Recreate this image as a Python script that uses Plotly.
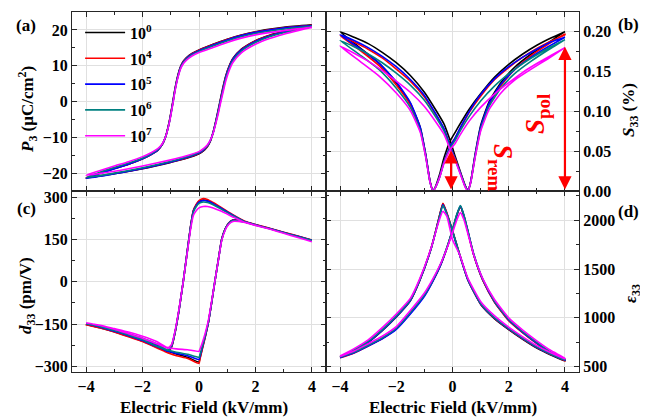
import plotly.graph_objects as go

FONT = "Liberation Serif"
SERIES = ["10<sup>0</sup>", "10<sup>4</sup>", "10<sup>5</sup>", "10<sup>6</sup>", "10<sup>7</sup>"]
COLORS = ["#000000", "#ff0000", "#0000ff", "#008080", "#ff00ff"]

# ---------------- (a) P-E loops ----------------
E_A_UP = [-4, -3, -2, -1, -0.5, 0, 0.2, 0.3, 0.4, 0.5, 0.6, 0.7, 0.75, 0.85, 0.95, 1.07, 1.2, 1.5, 2, 2.5, 3, 3.5, 4]
P_UP_0 = [-21.4, -20.2, -18.8, -17.0, -16.0, -14.6, -13.5, -12.6, -11.1, -8.6, -5.3, -1.6, 0.3, 4.0, 7.2, 9.9, 12.0, 14.6, 17.0, 18.5, 19.6, 20.5, 21.4]
P_UP_4 = [-21.3, -20.1, -18.7, -16.9, -15.9, -14.5, -13.4, -12.5, -11.1, -8.7, -5.5, -1.9, 0.0, 3.7, 7.0, 9.8, 11.9, 14.5, 16.9, 18.4, 19.5, 20.4, 21.3]
P_UP_5 = [-21.5, -20.2, -18.7, -16.9, -15.8, -14.4, -13.3, -12.4, -11.0, -8.7, -5.5, -2.0, -0.1, 3.5, 6.9, 9.7, 11.8, 14.4, 16.8, 18.3, 19.4, 20.3, 21.2]
P_UP_6 = [-21.2, -20.0, -18.5, -16.7, -15.6, -14.2, -13.1, -12.3, -10.9, -8.8, -5.7, -2.3, -0.4, 3.1, 6.4, 9.3, 11.4, 14.1, 16.5, 18.1, 19.2, 20.1, 21.0]
P_UP_7 = [-20.6, -19.5, -18.0, -16.3, -15.3, -14.0, -12.9, -12.1, -10.8, -8.9, -6.0, -2.8, -0.9, 2.5, 5.8, 8.7, 10.9, 13.6, 16.0, 17.6, 18.8, 19.8, 20.7]

E_A_DN = [4, 3, 2, 1.5, 1, 0.5, 0, -0.25, -0.45, -0.55, -0.65, -0.75, -0.85, -0.92, -1.05, -1.19, -1.3, -1.45, -1.7, -2, -2.5, -3, -3.5, -4]
P_DN_0 = [21.4, 20.7, 19.5, 18.6, 17.4, 16.0, 14.4, 13.4, 12.2, 11.3, 9.8, 7.3, 3.6, 0.3, -5.5, -10.0, -12.0, -13.5, -14.8, -16.0, -17.5, -18.7, -20.0, -21.4]
P_DN_4 = [21.3, 20.6, 19.4, 18.5, 17.3, 15.9, 14.3, 13.3, 12.1, 11.2, 9.7, 7.1, 3.4, 0.1, -5.6, -10.0, -12.0, -13.5, -14.8, -16.0, -17.5, -18.7, -20.0, -21.3]
P_DN_5 = [21.2, 20.5, 19.3, 18.4, 17.2, 15.8, 14.2, 13.2, 12.0, 11.1, 9.6, 7.0, 3.3, 0.0, -5.7, -10.0, -12.0, -13.5, -14.8, -16.0, -17.5, -18.8, -20.1, -21.5]
P_DN_6 = [21.0, 20.2, 19.0, 18.1, 16.9, 15.5, 14.0, 13.0, 11.8, 10.9, 9.4, 6.8, 3.1, -0.2, -5.8, -10.0, -11.9, -13.3, -14.6, -15.8, -17.2, -18.4, -19.7, -21.2]
P_DN_7 = [20.7, 19.8, 18.6, 17.7, 16.5, 15.1, 13.7, 12.7, 11.5, 10.6, 9.2, 6.6, 2.9, -0.4, -5.9, -10.0, -11.8, -13.1, -14.3, -15.4, -16.8, -18.0, -19.3, -20.6]

# ---------------- (b) S-E butterflies ----------------
E_B_UP = [-4, -3.5, -3, -2.5, -2, -1.5, -1, -0.6, -0.3, -0.08, 0.1, 0.3, 0.45, 0.55, 0.65, 0.8, 1.0, 1.3, 1.7, 2.2, 2.8, 3.4, 4]
S_UP_0 = [0.200, 0.193, 0.185, 0.174, 0.161, 0.145, 0.124, 0.102, 0.084, 0.063, 0.043, 0.022, 0.007, 0.000, 0.012, 0.045, 0.082, 0.112, 0.135, 0.155, 0.172, 0.186, 0.200]
S_UP_4 = [0.195, 0.187, 0.178, 0.167, 0.153, 0.138, 0.118, 0.096, 0.077, 0.056, 0.040, 0.021, 0.006, 0.000, 0.012, 0.043, 0.078, 0.108, 0.131, 0.152, 0.170, 0.184, 0.197]
S_UP_5 = [0.196, 0.189, 0.180, 0.169, 0.156, 0.140, 0.120, 0.097, 0.078, 0.056, 0.040, 0.021, 0.006, 0.000, 0.012, 0.044, 0.080, 0.110, 0.133, 0.152, 0.168, 0.181, 0.193]
S_UP_6 = [0.189, 0.181, 0.172, 0.161, 0.148, 0.133, 0.114, 0.093, 0.075, 0.054, 0.039, 0.020, 0.006, 0.000, 0.011, 0.042, 0.077, 0.106, 0.128, 0.147, 0.163, 0.177, 0.190]
S_UP_7 = [0.182, 0.173, 0.163, 0.151, 0.138, 0.124, 0.106, 0.087, 0.071, 0.052, 0.038, 0.019, 0.005, 0.000, 0.011, 0.041, 0.075, 0.102, 0.122, 0.139, 0.153, 0.166, 0.180]

E_B_DN = [4, 3.5, 3, 2.5, 2, 1.5, 1, 0.6, 0.3, 0.1, -0.08, -0.3, -0.45, -0.6, -0.69, -0.8, -0.95, -1.15, -1.5, -2, -2.6, -3.3, -4]
S_DN_0 = [0.200, 0.192, 0.183, 0.172, 0.159, 0.143, 0.122, 0.103, 0.086, 0.074, 0.063, 0.042, 0.022, 0.006, 0.000, 0.012, 0.045, 0.080, 0.110, 0.136, 0.160, 0.180, 0.200]
S_DN_4 = [0.196, 0.188, 0.179, 0.168, 0.155, 0.140, 0.119, 0.099, 0.080, 0.067, 0.056, 0.037, 0.019, 0.005, 0.000, 0.012, 0.044, 0.078, 0.108, 0.133, 0.157, 0.177, 0.195]
S_DN_5 = [0.193, 0.187, 0.178, 0.168, 0.156, 0.141, 0.121, 0.100, 0.081, 0.067, 0.056, 0.037, 0.019, 0.005, 0.000, 0.012, 0.045, 0.080, 0.111, 0.137, 0.160, 0.179, 0.196]
S_DN_6 = [0.190, 0.181, 0.171, 0.160, 0.147, 0.132, 0.113, 0.094, 0.077, 0.064, 0.054, 0.036, 0.018, 0.005, 0.000, 0.011, 0.043, 0.076, 0.105, 0.129, 0.152, 0.171, 0.189]
S_DN_7 = [0.180, 0.170, 0.160, 0.149, 0.136, 0.122, 0.105, 0.088, 0.072, 0.060, 0.052, 0.035, 0.018, 0.005, 0.000, 0.011, 0.042, 0.074, 0.101, 0.123, 0.144, 0.163, 0.182]

# ---------------- (c) d33-E loops ----------------
E_C_UP = [-4, -3.5, -3, -2.5, -2, -1.5, -1.15, -0.8, -0.4, 0, 0.03, 0.12, 0.22, 0.33, 0.45, 0.56, 0.68, 0.8, 0.92, 1.04, 1.2, 1.4, 1.7, 2, 2.5, 3, 3.5, 4]
D_UP_0 = [-150, -160, -174, -188, -204, -224, -244, -256, -268, -285, -272, -235, -195, -146, -72, 0, 75, 149, 186, 207, 219, 218, 211, 202, 189, 175, 161, 147]
D_UP_4 = [-152, -162, -176, -190, -207, -228, -250, -262, -272, -290, -276, -238, -197, -146, -72, 0, 75, 149, 186, 207, 219, 218, 212, 203, 190, 176, 162, 148]
D_UP_5 = [-150, -160, -173, -187, -203, -223, -244, -254, -262, -276, -266, -232, -193, -145, -72, 0, 74, 148, 185, 206, 218, 217, 211, 202, 189, 175, 161, 147]
D_UP_6 = [-149, -158, -171, -185, -200, -220, -240, -250, -257, -268, -260, -228, -190, -143, -71, 0, 74, 147, 184, 205, 217, 216, 210, 201, 188, 174, 160, 146]
D_UP_7 = [-146, -154, -166, -178, -193, -212, -232, -238, -241, -247, -240, -215, -182, -138, -68, 0, 73, 144, 181, 202, 214, 214, 209, 200, 187, 172, 157, 142]

E_C_DN = [4, 3.5, 3, 2.5, 2, 1.6, 1.2, 0.8, 0.5, 0.3, 0.15, 0.0, -0.1, -0.2, -0.3, -0.4, -0.56, -0.7, -0.85, -0.97, -1.1, -1.3, -1.6, -2, -2.5, -3, -3.5, -4]
D_DN_0 = [147, 161, 175, 189, 202, 214, 235, 260, 277, 287, 290, 285, 272, 252, 195, 120, 0, -95, -180, -229, -248, -240, -228, -210, -193, -177, -163, -151]
D_DN_4 = [148, 162, 176, 190, 203, 216, 238, 263, 281, 292, 295, 288, 274, 253, 196, 120, 0, -95, -182, -232, -252, -243, -230, -212, -195, -178, -164, -152]
D_DN_5 = [147, 161, 175, 189, 202, 214, 236, 260, 277, 286, 288, 282, 270, 250, 194, 120, 0, -95, -180, -229, -247, -238, -226, -208, -191, -175, -161, -149]
D_DN_6 = [146, 160, 174, 188, 201, 213, 234, 257, 273, 281, 283, 278, 266, 247, 192, 118, 0, -94, -178, -226, -244, -236, -224, -206, -189, -173, -159, -148]
D_DN_7 = [142, 157, 172, 187, 200, 211, 230, 250, 262, 267, 267, 262, 252, 235, 185, 115, 0, -92, -175, -222, -236, -228, -216, -200, -184, -168, -155, -145]

# ---------------- (d) eps-E curves ----------------
E_D_UP = [-4, -3.5, -3, -2.5, -2, -1.5, -1, -0.69, -0.4, -0.15, 0, 0.15, 0.28, 0.4, 0.55, 0.75, 1.08, 1.5, 2, 2.5, 3, 3.5, 4]
EPS_UP_0 = [595, 645, 715, 790, 890, 1050, 1230, 1386, 1560, 1760, 1900, 2050, 2140, 2050, 1880, 1650, 1386, 1160, 975, 850, 740, 640, 570]
EPS_UP_4 = [590, 640, 712, 788, 888, 1048, 1228, 1384, 1558, 1758, 1898, 2048, 2138, 2048, 1878, 1648, 1384, 1158, 970, 845, 735, 635, 560]
EPS_UP_5 = [592, 642, 712, 786, 882, 1040, 1222, 1380, 1556, 1758, 1898, 2050, 2145, 2055, 1885, 1655, 1390, 1165, 978, 852, 742, 642, 568]
EPS_UP_6 = [598, 650, 720, 796, 895, 1055, 1236, 1392, 1566, 1765, 1905, 2058, 2150, 2060, 1890, 1660, 1395, 1170, 985, 858, 748, 648, 575]
EPS_UP_7 = [605, 660, 735, 812, 910, 1075, 1255, 1405, 1570, 1750, 1870, 2000, 2078, 2010, 1860, 1650, 1400, 1185, 1000, 875, 765, 665, 585]

E_D_DN = [4, 3.5, 3, 2.5, 2, 1.5, 1.02, 0.55, 0.25, 0, -0.2, -0.34, -0.5, -0.75, -1.16, -1.5, -2, -2.5, -3, -3.5, -4]
EPS_DN_0 = [560, 620, 690, 780, 880, 990, 1131, 1386, 1650, 1890, 2070, 2170, 2000, 1720, 1386, 1175, 1010, 870, 750, 665, 600]
EPS_DN_4 = [565, 625, 695, 785, 885, 995, 1135, 1390, 1655, 1895, 2075, 2175, 2005, 1725, 1390, 1180, 1015, 875, 755, 668, 598]
EPS_DN_5 = [565, 626, 697, 787, 886, 996, 1136, 1388, 1650, 1888, 2065, 2160, 1995, 1720, 1388, 1178, 1012, 872, 752, 665, 595]
EPS_DN_6 = [570, 630, 702, 792, 892, 1002, 1142, 1394, 1655, 1890, 2062, 2150, 1992, 1722, 1394, 1185, 1020, 880, 760, 672, 602]
EPS_DN_7 = [580, 642, 715, 805, 905, 1020, 1160, 1405, 1650, 1800, 2040, 2092, 1975, 1725, 1405, 1200, 1040, 900, 775, 685, 610]

A_UP = [P_UP_0, P_UP_4, P_UP_5, P_UP_6, P_UP_7]
A_DN = [P_DN_0, P_DN_4, P_DN_5, P_DN_6, P_DN_7]
B_UP = [S_UP_0, S_UP_4, S_UP_5, S_UP_6, S_UP_7]
B_DN = [S_DN_0, S_DN_4, S_DN_5, S_DN_6, S_DN_7]
C_UP = [D_UP_0, D_UP_4, D_UP_5, D_UP_6, D_UP_7]
C_DN = [D_DN_0, D_DN_4, D_DN_5, D_DN_6, D_DN_7]
D_UP = [EPS_UP_0, EPS_UP_4, EPS_UP_5, EPS_UP_6, EPS_UP_7]
D_DN = [EPS_DN_0, EPS_DN_4, EPS_DN_5, EPS_DN_6, EPS_DN_7]

fig = go.Figure()

panels = [
    ("x", "y", E_A_UP, E_A_DN, A_UP, A_DN, True, 0.6),
    ("x2", "y2", E_B_UP, E_B_DN, B_UP, B_DN, False, 0.5),
    ("x3", "y3", E_C_UP, E_C_DN, C_UP, C_DN, False, 0.4),
    ("x4", "y4", E_D_UP, E_D_DN, D_UP, D_DN, False, 0.5),
]
for xa, ya, eu, ed, vu, vd, leg, sm in panels:
    for i in range(5):
        fig.add_trace(go.Scatter(
            x=eu + ed, y=vu[i] + vd[i], mode="lines",
            line=dict(color=COLORS[i], width=1.6, shape="spline", smoothing=sm),
            name=SERIES[i], legendgroup=SERIES[i], showlegend=leg,
            xaxis=xa, yaxis=ya, hoverinfo="skip"))

tickfont = dict(family=FONT, size=16, color="black", weight="bold")
LINE = "#262626"
GRID = "#e0e0e0"


def axis(**kw):
    d = dict(showline=True, linecolor=LINE, linewidth=1.1, mirror="ticks",
             ticks="inside", ticklen=5, tickcolor=LINE, tickwidth=1,
             showgrid=True, gridcolor=GRID, gridwidth=1, zeroline=False,
             tickfont=tickfont, automargin=False)
    d.update(kw)
    return d


def minor(dt):
    return dict(ticks="inside", ticklen=3, tickcolor=LINE, dtick=dt, showgrid=False)


# The page body keeps an 8px browser margin, so the figure is drawn 8px smaller
# and shifted; plot area lands at x 72..579, y 12..372 of the 648x418 window.
OFF = 8
FIG_W, FIG_H = 648 - OFF, 418 - OFF
L, R, T, B = 72, 579, 12, 372

XSPLIT = 0.501
YSPLIT = 0.5028
xcommon = dict(range=[-4.5, 4.5], tickmode="linear", tick0=-4, dtick=2)

fig.update_layout(
    width=FIG_W, height=FIG_H,
    margin=dict(l=L - OFF, r=648 - R, t=T - OFF, b=418 - B, autoexpand=False),
    paper_bgcolor="white", plot_bgcolor="white",
    font=dict(family=FONT, color="black"),
    xaxis=axis(domain=[0, XSPLIT], anchor="y", showticklabels=False, minor=minor(1), **xcommon),
    yaxis=axis(domain=[YSPLIT, 1], anchor="x", range=[-25, 25], tickmode="linear", tick0=0, dtick=10,
               minor=minor(5)),
    xaxis2=axis(domain=[XSPLIT, 1], anchor="y2", showticklabels=False, minor=minor(1), **xcommon),
    yaxis2=axis(domain=[YSPLIT, 1], anchor="x2", side="right", range=[0, 0.2247],
                tickmode="linear", tick0=0, dtick=0.05, tickformat=".2f", minor=minor(0.025)),
    xaxis3=axis(domain=[0, XSPLIT], anchor="y3", minor=minor(1), **xcommon),
    yaxis3=axis(domain=[0, YSPLIT], anchor="x3", range=[-320, 322], tickmode="linear", tick0=0, dtick=150,
                minor=minor(75)),
    xaxis4=axis(domain=[XSPLIT, 1], anchor="y4", minor=minor(1), **xcommon),
    yaxis4=axis(domain=[0, YSPLIT], anchor="x4", side="right", range=[445, 2300], tickmode="linear",
                tick0=500, dtick=500, minor=minor(250)),
    legend=dict(x=0.016, y=0.99, xanchor="left", yanchor="top", bgcolor="rgba(0,0,0,0)",
                font=dict(family=FONT, size=16, color="black", weight="bold"),
                traceorder="grouped", itemwidth=40, tracegroupgap=2),
    showlegend=True,
)


def px(xp):
    return (xp - L) / (R - L)


def py(yp):
    return (B - yp) / (B - T)


title_font = dict(family=FONT, size=17, color="black", weight="bold")
annots = [
    dict(text="<i>P</i><sub>3</sub> (μC/cm<sup>2</sup>)", x=px(27), y=py(110), textangle=-90),
    dict(text="<i>d</i><sub>33</sub> (pm/V)", x=px(27), y=py(296), textangle=-90),
    dict(text="<i>S</i><sub>33</sub> (%)", x=px(630), y=py(110), textangle=-90),
    dict(text="<i>ε</i><sub>33</sub>", x=px(632), y=py(294), textangle=-90),
    dict(text="Electric Field (kV/mm)", x=px(204), y=py(407), textangle=0),
    dict(text="Electric Field (kV/mm)", x=px(453), y=py(407), textangle=0),
    dict(text="(a)", x=px(26), y=py(26), textangle=0),
    dict(text="(b)", x=px(628), y=py(25), textangle=0),
    dict(text="(c)", x=px(26), y=py(208), textangle=0),
    dict(text="(d)", x=px(628), y=py(211), textangle=0),
]
for a in annots:
    fig.add_annotation(xref="paper", yref="paper", showarrow=False, font=title_font,
                       xanchor="center", yanchor="middle", **a)

# red double arrows in (b)
RED = "#ff0000"
for xv, y0, y1 in [(-0.05, 0.0, 0.051), (4.0, 0.0, 0.181)]:
    fig.add_annotation(x=xv, y=y1, ax=xv, ay=y0, xref="x2", yref="y2", axref="x2", ayref="y2",
                       showarrow=True, arrowhead=2, startarrowhead=2, arrowside="end+start",
                       arrowsize=1.2, startarrowsize=1.2, arrowwidth=2.2, arrowcolor=RED,
                       standoff=0, startstandoff=0, text="")

sfont = dict(family=FONT, size=27, color=RED, weight="bold")
fig.add_annotation(xref="paper", yref="paper", x=px(520), y=py(167), showarrow=False,
                   text="<i>S</i><sub>rem</sub>", textangle=90, font=sfont)
fig.add_annotation(xref="paper", yref="paper", x=px(556), y=py(92), showarrow=False,
                   text="<i>S</i><sub>pol</sub>", textangle=-90, font=sfont)

fig.write_html("out.html")
